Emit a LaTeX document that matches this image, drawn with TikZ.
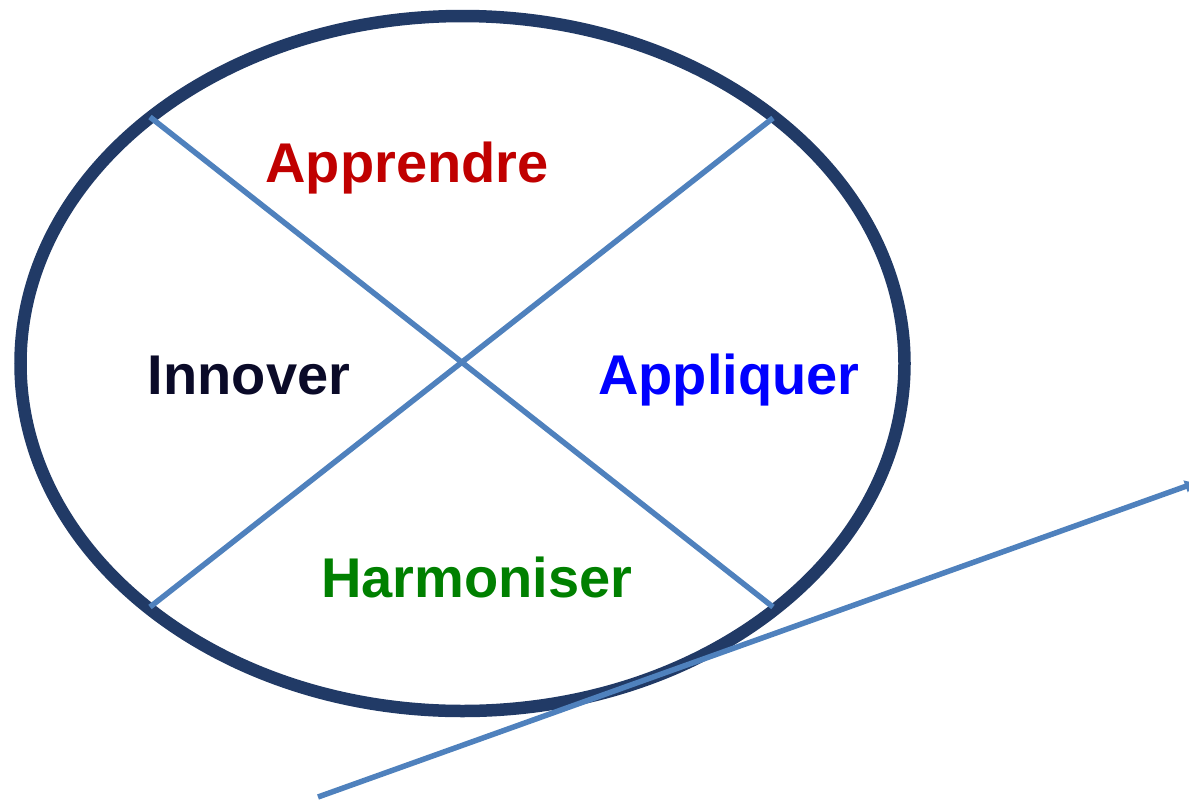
\documentclass[tikz,border=0pt]{standalone}
\usepackage{fontspec}
\setmainfont{Liberation Sans}
\usetikzlibrary{shapes.geometric,arrows.meta}
\definecolor{navy}{RGB}{33,58,102}
\definecolor{steel}{RGB}{79,129,189}
\definecolor{rouge}{RGB}{192,0,0}
\definecolor{vert}{RGB}{0,128,0}
\definecolor{bleu}{RGB}{0,0,255}
\definecolor{encre}{RGB}{10,10,40}
\begin{document}
\begin{tikzpicture}[x=1pt,y=-1pt,
  lbl/.style={anchor=base,font=\fontsize{56}{64}\selectfont\bfseries,inner sep=0pt},
  cross/.style={draw=steel,line width=5.5pt},
  ring/.style={draw=navy,line width=12.5pt,ellipse,minimum width=884pt,minimum height=695pt,inner sep=0pt}]
\useasboundingbox (0,0) rectangle (1189,801);
\node[ring] (oval) at (462.5,363.5) {};
\coordinate (tl) at (150,117);
\coordinate (br) at (773,607);
\coordinate (bl) at (150,607);
\coordinate (tr) at (773,118);
\draw[cross] (tl) -- (br);
\draw[cross] (bl) -- (tr);
\node[lbl,text=rouge] (apprendre) at (407,182) {Apprendre};
\node[lbl,text=encre] (innover) at (249,394) {Innover};
\node[lbl,text=bleu] (appliquer) at (729,394) {Appliquer};
\node[lbl,text=vert] (harmoniser) at (477,597) {Harmoniser};
\coordinate (s) at (318,797);
\coordinate (e) at (1195,483);
\draw[steel,line width=5.5pt,-{Triangle[length=10pt,width=12pt]}] (s) -- (e);
\end{tikzpicture}
\end{document}
